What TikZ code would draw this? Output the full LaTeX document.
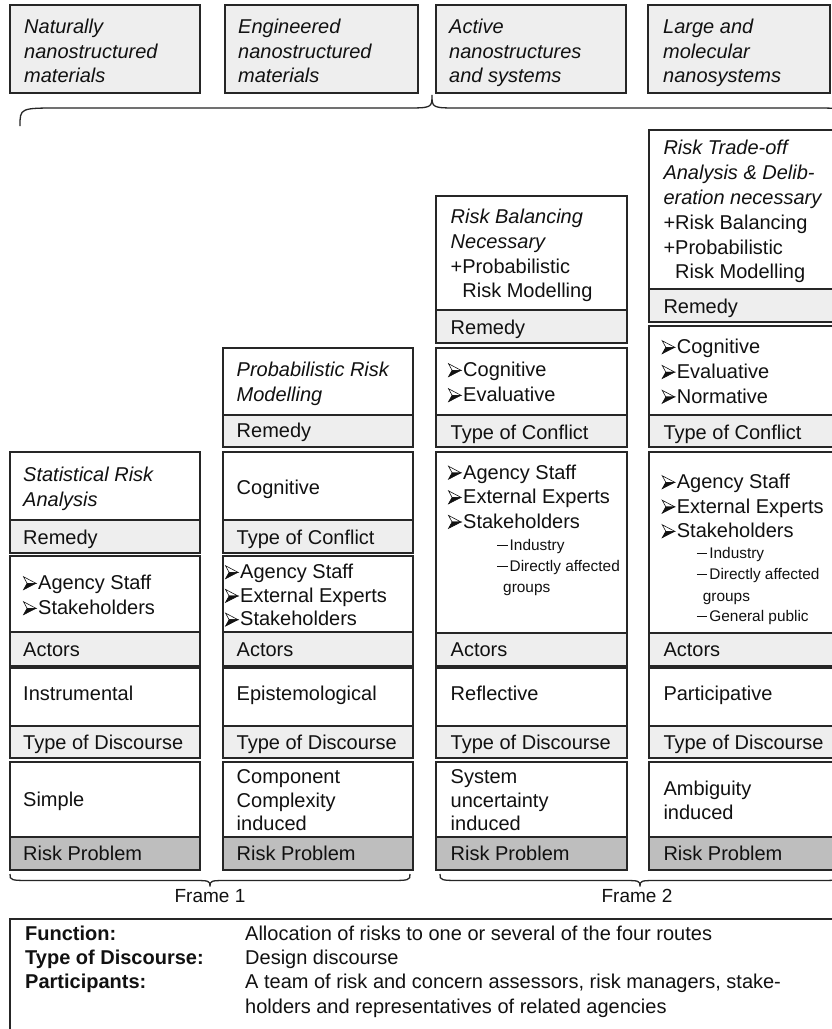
\documentclass[tikz,border=0pt]{standalone}
\usepackage{fontspec}
\setmainfont{Liberation Sans}

\definecolor{linec}{HTML}{262626}
\definecolor{textc}{HTML}{111111}
\definecolor{lightfill}{HTML}{EEEEEE}
\definecolor{darkfill}{HTML}{BEBEBE}

% arrow-head bullet (light upper half, dark lower half) and indented sub-item
\newcommand\arrbul{\makebox[15pt][l]{\tikz[baseline=0pt,x=1pt,y=1pt,line width=0.6pt,line join=miter]{%
  \filldraw[draw=textc,fill=white] (0,12.8) -- (12.5,6.2) -- (3.6,6.2) -- cycle;
  \filldraw[draw=textc,fill=textc] (0,-0.2) -- (12.5,6.2) -- (3.6,6.2) -- cycle;}}}
\newcommand\subit[1]{\makebox[12.5pt][l]{\raisebox{3.9pt}{\rule{10.5pt}{1.3pt}}}#1}

% a rectangular cell given by its corners
\newcommand\cellbox[6]{\node[#2,anchor=north west,minimum width={#5-#3},minimum height={#6-#4},inner sep=0pt,outer sep=0pt] (#1) at (#3,#4) {};}

% several text lines, one node each: name, style, x, first baseline, pitch, lines
\newcommand\textlines[6]{\foreach \tline [count=\kk] in {#6} {\node[#2,anchor=base west] (#1-\kk) at (#3,{#4+(\kk-1)*#5}) {\tline};}}

% horizontal curly brace: x1, x2, x of tip, y of ends, y of straight part, y of tip, end radius, tip radius
\newcommand\hbrace[8]{\draw[bracestyle] (#1,#4) .. controls (#1,#5) .. ({#1+#7},#5) -- ({#3-#8},#5) .. controls (#3,#5) .. (#3,#6) .. controls (#3,#5) .. ({#3+#8},#5) -- ({#2-#7},#5) .. controls (#2,#5) .. (#2,#4);}

\begin{document}
\begin{tikzpicture}[x=1pt,y=-1pt,
  topbox/.style={draw=linec,line width=1.5pt,fill=lightfill},
  cellw/.style={draw=linec,line width=1.5pt,fill=white},
  cellg/.style={draw=linec,line width=1.5pt,fill=lightfill},
  celld/.style={draw=linec,line width=1.5pt,fill=darkfill},
  bracestyle/.style={draw=linec,line width=1.3pt},
  txt/.style={inner sep=0pt,text=textc,font=\fontsize{20}{24}\selectfont},
  itxt/.style={inner sep=0pt,text=textc,font=\fontsize{20}{24}\selectfont\itshape},
  stxt/.style={inner sep=0pt,text=textc,font=\fontsize{15.4}{18}\selectfont},
  btxt/.style={inner sep=0pt,text=textc,font=\fontsize{20}{24}\selectfont\bfseries},
  frametxt/.style={inner sep=0pt,text=textc,font=\fontsize{19}{22}\selectfont}]

\useasboundingbox (0,0) rectangle (832,1029);
\fill[white] (0,0) rectangle (832,1029);
\clip (0,0) rectangle (832,1029);

% ---------- nanomaterial categories ----------
\cellbox{top1}{topbox}{10}{5}{200}{93}
\cellbox{top2}{topbox}{225}{5}{418}{93}
\cellbox{top3}{topbox}{436}{5}{626}{93}
\cellbox{top4}{topbox}{648}{5}{830}{93}
\textlines{top1t}{itxt}{24}{33.5}{24.5}{Naturally,nanostructured,materials}
\textlines{top2t}{itxt}{238}{33.5}{24.5}{Engineered,nanostructured,materials}
\textlines{top3t}{itxt}{449}{33.5}{24.5}{Active,nanostructures,and systems}
\textlines{top4t}{itxt}{663}{33.5}{24.5}{Large and,molecular,nanosystems}

\hbrace{20}{850}{432}{126}{108}{95}{40}{28}

% ---------- column 1 ----------
\cellbox{c1a}{cellw}{10}{452}{200}{520}
\cellbox{c1b}{cellg}{10}{520}{200}{553}
\cellbox{c1c}{cellw}{10}{556}{200}{632}
\cellbox{c1d}{cellg}{10}{632}{200}{666}
\cellbox{c1e}{cellw}{10}{668}{200}{726}
\cellbox{c1f}{cellg}{10}{726}{200}{758}
\cellbox{c1g}{cellw}{10}{762}{200}{837}
\cellbox{c1h}{celld}{10}{837}{200}{870}
\textlines{c1at}{itxt}{23}{481.5}{25}{Statistical Risk,Analysis}
\node[txt,anchor=base west] (c1bt) at (23,544) {Remedy};
\textlines{c1ct}{txt}{23}{589.5}{25}{\arrbul Agency Staff,\arrbul Stakeholders}
\node[txt,anchor=base west] (c1dt) at (23,656.5) {Actors};
\node[txt,anchor=base west] (c1et) at (23,700.5) {Instrumental};
\node[txt,anchor=base west] (c1ft) at (23,749) {Type of Discourse};
\node[txt,anchor=base west] (c1gt) at (23,806.5) {Simple};
\node[txt,anchor=base west] (c1ht) at (23,860) {Risk Problem};

% ---------- column 2 ----------
\cellbox{c2a}{cellw}{223}{348}{413}{415}
\cellbox{c2b}{cellg}{223}{415}{413}{447}
\cellbox{c2c}{cellw}{223}{452}{413}{520}
\cellbox{c2d}{cellg}{223}{520}{413}{553}
\cellbox{c2e}{cellw}{223}{556}{413}{632}
\cellbox{c2f}{cellg}{223}{632}{413}{666}
\cellbox{c2g}{cellw}{223}{668}{413}{726}
\cellbox{c2h}{cellg}{223}{726}{413}{758}
\cellbox{c2i}{cellw}{223}{762}{413}{837}
\cellbox{c2j}{celld}{223}{837}{413}{870}
\textlines{c2at}{itxt}{236.5}{376.5}{25}{Probabilistic Risk,Modelling}
\node[txt,anchor=base west] (c2bt) at (236.5,437.5) {Remedy};
\node[txt,anchor=base west] (c2ct) at (236.5,494.5) {Cognitive};
\node[txt,anchor=base west] (c2dt) at (236.5,544) {Type of Conflict};
\textlines{c2et}{txt}{225}{578.5}{23.7}{\arrbul Agency Staff,\arrbul External Experts,\arrbul Stakeholders}
\node[txt,anchor=base west] (c2ft) at (236.5,656.5) {Actors};
\node[txt,anchor=base west] (c2gt) at (236.5,700.5) {Epistemological};
\node[txt,anchor=base west] (c2ht) at (236.5,749) {Type of Discourse};
\textlines{c2it}{txt}{236.5}{783.5}{23.7}{Component,Complexity,induced}
\node[txt,anchor=base west] (c2jt) at (236.5,860) {Risk Problem};

% ---------- column 3 ----------
\cellbox{c3a}{cellw}{436}{196}{627}{310}
\cellbox{c3b}{cellg}{436}{310}{627}{343}
\cellbox{c3c}{cellw}{436}{348}{627}{415}
\cellbox{c3d}{cellg}{436}{415}{627}{447}
\cellbox{c3e}{cellw}{436}{452}{627}{633}
\cellbox{c3f}{cellg}{436}{633}{627}{666}
\cellbox{c3g}{cellw}{436}{668}{627}{726}
\cellbox{c3h}{cellg}{436}{726}{627}{758}
\cellbox{c3i}{cellw}{436}{762}{627}{837}
\cellbox{c3j}{celld}{436}{837}{627}{870}
\textlines{c3at}{txt}{450.5}{223.5}{24.8}{\textit{Risk Balancing},\textit{Necessary},+Probabilistic,\phantom{+}Risk Modelling}
\node[txt,anchor=base west] (c3bt) at (450.5,334.5) {Remedy};
\textlines{c3ct}{txt}{448}{376.5}{25}{\arrbul Cognitive,\arrbul Evaluative}
\node[txt,anchor=base west] (c3dt) at (450.5,439) {Type of Conflict};
\textlines{c3et}{txt}{448}{479}{24.6}{\arrbul Agency Staff,\arrbul External Experts,\arrbul Stakeholders}
\textlines{c3st}{stxt}{497}{550}{21}{\subit{Industry},\subit{Directly affected}}
\node[stxt,anchor=base west] (c3gr) at (503,592) {groups};
\node[txt,anchor=base west] (c3ft) at (450.5,656.5) {Actors};
\node[txt,anchor=base west] (c3gt) at (450.5,700.5) {Reflective};
\node[txt,anchor=base west] (c3ht) at (450.5,749) {Type of Discourse};
\textlines{c3it}{txt}{450.5}{783.5}{23.7}{System,uncertainty,induced}
\node[txt,anchor=base west] (c3jt) at (450.5,860) {Risk Problem};

% ---------- column 4 ----------
\cellbox{c4a}{cellw}{649}{130}{840}{289}
\cellbox{c4b}{cellg}{649}{289}{840}{322}
\cellbox{c4c}{cellw}{649}{326}{840}{415}
\cellbox{c4d}{cellg}{649}{415}{840}{447}
\cellbox{c4e}{cellw}{649}{452}{840}{633}
\cellbox{c4f}{cellg}{649}{633}{840}{666}
\cellbox{c4g}{cellw}{649}{668}{840}{726}
\cellbox{c4h}{cellg}{649}{726}{840}{758}
\cellbox{c4i}{cellw}{649}{762}{840}{837}
\cellbox{c4j}{celld}{649}{837}{840}{870}
\textlines{c4at}{txt}{663.3}{154.8}{24.8}{\textit{Risk Trade-off},\textit{Analysis \& Delib-},\textit{eration necessary},+Risk Balancing,+Probabilistic,\phantom{+}Risk Modelling}
\node[txt,anchor=base west] (c4bt) at (663.3,313) {Remedy};
\textlines{c4ct}{txt}{661.7}{353.5}{24.8}{\arrbul Cognitive,\arrbul Evaluative,\arrbul Normative}
\node[txt,anchor=base west] (c4dt) at (663.3,439) {Type of Conflict};
\textlines{c4et}{txt}{661.7}{488.5}{24.5}{\arrbul Agency Staff,\arrbul External Experts,\arrbul Stakeholders}
\textlines{c4st}{stxt}{696.7}{558}{21}{\subit{Industry},\subit{Directly affected}}
\node[stxt,anchor=base west] (c4gr) at (702.7,601) {groups};
\node[stxt,anchor=base west] (c4gp) at (696.7,621) {\subit{General public}};
\node[txt,anchor=base west] (c4ft) at (663.3,656.5) {Actors};
\node[txt,anchor=base west] (c4gt) at (663.3,700.5) {Participative};
\node[txt,anchor=base west] (c4ht) at (663.3,749) {Type of Discourse};
\textlines{c4it}{txt}{663.3}{795.5}{24}{Ambiguity,induced}
\node[txt,anchor=base west] (c4jt) at (663.3,860) {Risk Problem};

% ---------- frames ----------
\hbrace{10}{410}{210}{874}{880.5}{886.5}{25}{20}
\hbrace{440}{840}{640}{874}{880.5}{886.5}{25}{20}
\node[frametxt] (frame1) at (210,896) {Frame 1};
\node[frametxt] (frame2) at (637,896) {Frame 2};

% ---------- design discourse box ----------
\cellbox{design}{cellw}{10}{919}{845}{1045}
\node[btxt,anchor=base west] (fnl) at (25,940) {Function:};
\node[btxt,anchor=base west] (tdl) at (25,964) {Type of Discourse:};
\node[btxt,anchor=base west] (pal) at (25,988) {Participants:};
\node[txt,anchor=base west] (fnv) at (245,940) {Allocation of risks to one or several of the four routes};
\node[txt,anchor=base west] (tdv) at (245,964) {Design discourse};
\node[txt,anchor=base west] (pav1) at (245,988) {A team of risk and concern assessors, risk managers, stake-};
\node[txt,anchor=base west] (pav2) at (245,1013) {holders and representatives of related agencies};
\end{tikzpicture}
\end{document}
